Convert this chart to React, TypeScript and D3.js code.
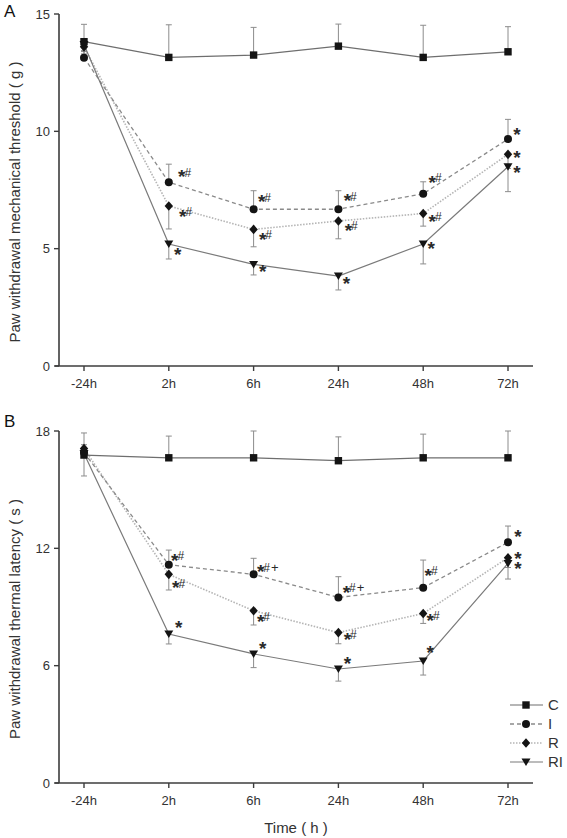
import React from "react";
import * as d3 from "d3";

// ---------- DATA ----------
const categories = ["-24h", "2h", "6h", "24h", "48h", "72h"];
const seriesNames = ["C", "I", "R", "RI"];

// Panel A: mechanical threshold (g)
const mechC = [13.82, 13.15, 13.25, 13.63, 13.15, 13.39];
const mechCErr = [0.74, 1.39, 1.18, 0.94, 1.37, 1.07];
const mechI = [13.14, 7.83, 6.68, 6.68, 7.34, 9.67];
const mechIErr = [0.3, 0.77, 0.79, 0.79, 0.51, 0.84];
const mechR = [13.6, 6.82, 5.82, 6.18, 6.5, 9.02];
const mechRErr = [0.3, 0.98, 0.74, 0.76, 0.54, 0.6];
const mechRI = [13.7, 5.2, 4.33, 3.83, 5.2, 8.49];
const mechRIErr = [0.3, 0.64, 0.45, 0.59, 0.85, 1.06];
const mechTicks = [0, 5, 10, 15];

const mechAnnoI = ["", "*#", "*#", "*#", "*#", "*"];
const mechAnnoR = ["", "*#", "*#", "*#", "*#", "*"];
const mechAnnoRI = ["", "*", "*", "*", "*", "*"];

// Panel B: thermal latency (s)
const therC = [16.77, 16.63, 16.63, 16.48, 16.63, 16.63];
const therCErr = [1.13, 1.11, 1.37, 1.22, 1.21, 1.37];
const therI = [16.9, 11.16, 10.67, 9.49, 9.99, 12.31];
const therIErr = [0.4, 0.75, 0.82, 1.06, 1.41, 0.83];
const therR = [17.1, 10.67, 8.81, 7.69, 8.67, 11.52];
const therRErr = [0.4, 0.8, 0.73, 0.57, 0.51, 0.5];
const therRI = [16.85, 7.62, 6.6, 5.83, 6.24, 11.23];
const therRIErr = [1.15, 0.51, 0.7, 0.62, 0.72, 0.8];
const therTicks = [0, 6, 12, 18];

const therAnnoI = ["", "*#", "*#+", "*#+", "*#", "*"];
const therAnnoR = ["", "*#", "*#", "*#", "*#", "*"];
const therAnnoRI = ["", "*", "*", "*", "*", "*"];

// ---------- LAYOUT (not data) ----------
const W = 567;
const H = 838;
const FONT = "'Liberation Sans', Arial, Helvetica, sans-serif";
const AXIS_X = 59;
const X_END = 533;

// star-centre offsets from the marker, per series, per time point
const mechOff = {
  I: [[0, 0], [13, -10], [8, -12], [9, -13], [9, -16], [9, -9]],
  R: [[0, 0], [14, 6], [9, 5], [10, 5], [9, 3], [9, -1]],
  RI: [[0, 0], [9, 6], [9, 3], [8, 3], [8, 0], [9, 1]],
};
const therOff = {
  I: [[0, 0], [6, -9], [7, -7], [8, -10], [5, -17], [10, -10]],
  R: [[0, 0], [7, 9], [7, 6], [9, 2], [7, 2], [10, -4]],
  RI: [[0, 0], [10, -11], [9, -10], [9, -10], [7, -13], [10, 1]],
};

const styles = {
  C: { stroke: "#6e6e6e", dash: "", width: 1.2, errDir: -1 },
  I: { stroke: "#8a8a8a", dash: "4,3", width: 1.3, errDir: -1 },
  R: { stroke: "#b5b5b5", dash: "1.5,1.5", width: 1.6, errDir: 1 },
  RI: { stroke: "#7a7a7a", dash: "", width: 1.2, errDir: 1 },
};

const MARK = "#141414";

function Marker({ type, x, y }) {
  if (type === "C") return <rect x={x - 3.7} y={y - 3.7} width={7.4} height={7.4} fill={MARK} />;
  if (type === "I") return <circle cx={x} cy={y} r={4} fill={MARK} />;
  if (type === "R")
    return <path d={`M${x},${y - 4.8}L${x + 4.2},${y}L${x},${y + 4.8}L${x - 4.2},${y}Z`} fill={MARK} />;
  return <path d={`M${x - 4.5},${y - 3.5}L${x + 4.5},${y - 3.5}L${x},${y + 4}Z`} fill={MARK} />;
}

function Anno({ text, sx, sy }) {
  if (!text) return null;
  const parts = text.split("");
  // bold star glyph centre ~0.585em above baseline; font 19px
  return (
    <text x={sx - 3.7} y={sy + 11.1} fontFamily={FONT} fill="#2a2a2a">
      {parts.map((p, i) => {
        if (p === "*")
          return (
            <tspan key={i} fontSize={19} fontWeight="bold">
              *
            </tspan>
          );
        if (p === "#")
          return (
            <tspan key={i} fontSize={12} dy={-6.8} dx={-1}>
              #
            </tspan>
          );
        return (
          <tspan key={i} fontSize={13} dx={1}>
            +
          </tspan>
        );
      })}
    </text>
  );
}

function Panel({ label, labelY, top, bottom, domainMax, ticks, data, errs, annos, offs, title, legend }) {
  const x = d3.scalePoint().domain(categories).range([84, 508]);
  const y = d3.scaleLinear().domain([0, domainMax]).range([bottom, top]);
  const line = d3
    .line()
    .x((d, i) => x(categories[i]))
    .y((d) => y(d));
  const order = ["R", "I", "RI", "C"];
  return (
    <g>
      <text x={4} y={labelY} fontFamily={FONT} fontSize={17} fill="#111">
        {label}
      </text>
      {/* axes */}
      <line x1={AXIS_X} x2={AXIS_X} y1={top} y2={bottom} stroke="#3c3c3c" strokeWidth={1.6} />
      <line x1={AXIS_X - 4} x2={X_END} y1={bottom} y2={bottom} stroke="#3c3c3c" strokeWidth={1.6} />
      {ticks.map((t) => (
        <g key={t}>
          <line x1={AXIS_X - 5} x2={AXIS_X} y1={y(t)} y2={y(t)} stroke="#3c3c3c" strokeWidth={1.4} />
          <text
            x={AXIS_X - 9}
            y={y(t)}
            dy="0.35em"
            textAnchor="end"
            fontFamily={FONT}
            fontSize={13}
            fill="#333"
          >
            {t}
          </text>
        </g>
      ))}
      {categories.map((c) => (
        <g key={c}>
          <line x1={x(c)} x2={x(c)} y1={bottom} y2={bottom + 5} stroke="#3c3c3c" strokeWidth={1.4} />
          <text x={x(c)} y={bottom + 22} textAnchor="middle" fontFamily={FONT} fontSize={13} fill="#333">
            {c}
          </text>
        </g>
      ))}
      <text
        transform={`translate(20,${(top + bottom) / 2 + 12}) rotate(-90)`}
        textAnchor="middle"
        fontFamily={FONT}
        fontSize={15}
        fill="#333"
      >
        {title}
      </text>
      {/* error bars */}
      {order.map((s) => {
        const st = styles[s];
        return data[s].map((v, i) => {
          const cx = x(categories[i]);
          const y1 = y(v);
          const ye = y(v - st.errDir * errs[s][i]);
          return (
            <g key={s + i} stroke="#8c8c8c" strokeWidth={1}>
              <line x1={cx} x2={cx} y1={y1} y2={ye} />
              <line x1={cx - 3} x2={cx + 3} y1={ye} y2={ye} />
            </g>
          );
        });
      })}
      {/* lines */}
      {order.map((s) => {
        const st = styles[s];
        return (
          <path
            key={s}
            d={line(data[s])}
            fill="none"
            stroke={st.stroke}
            strokeWidth={st.width}
            strokeDasharray={st.dash}
          />
        );
      })}
      {/* markers */}
      {order.map((s) =>
        data[s].map((v, i) => <Marker key={s + i} type={s} x={x(categories[i])} y={y(v)} />)
      )}
      {/* annotations */}
      {["I", "R", "RI"].map((s) =>
        annos[s].map((t, i) => (
          <Anno
            key={s + i}
            text={t}
            sx={x(categories[i]) + offs[s][i][0]}
            sy={y(data[s][i]) + offs[s][i][1]}
          />
        ))
      )}
      {legend}
    </g>
  );
}

function Legend() {
  const ys = [705, 724, 743, 762];
  return (
    <g>
      {seriesNames.map((s, i) => {
        const st = styles[s];
        return (
          <g key={s}>
            <line
              x1={510}
              x2={543}
              y1={ys[i]}
              y2={ys[i]}
              stroke={st.stroke}
              strokeWidth={st.width}
              strokeDasharray={st.dash}
            />
            <Marker type={s} x={526} y={ys[i]} />
            <text x={548} y={ys[i]} dy="0.36em" fontFamily={FONT} fontSize={15} fill="#333">
              {s}
            </text>
          </g>
        );
      })}
    </g>
  );
}

export default function App() {
  const mechData = { C: mechC, I: mechI, R: mechR, RI: mechRI };
  const mechErrs = { C: mechCErr, I: mechIErr, R: mechRErr, RI: mechRIErr };
  const therData = { C: therC, I: therI, R: therR, RI: therRI };
  const therErrs = { C: therCErr, I: therIErr, R: therRErr, RI: therRIErr };
  return (
    <svg
      width={W}
      height={H}
      viewBox={`0 0 ${W} ${H}`}
      style={{ position: "absolute", left: 0, top: 0, background: "#fff" }}
    >
      <rect width={W} height={H} fill="#fff" />
      <Panel
        label="A"
        labelY={17}
        top={14}
        bottom={366}
        domainMax={15}
        ticks={mechTicks}
        data={mechData}
        errs={mechErrs}
        annos={{ I: mechAnnoI, R: mechAnnoR, RI: mechAnnoRI }}
        offs={mechOff}
        title="Paw withdrawal mechanical threshold ( g )"
      />
      <Panel
        label="B"
        labelY={427}
        top={431}
        bottom={783}
        domainMax={18}
        ticks={therTicks}
        data={therData}
        errs={therErrs}
        annos={{ I: therAnnoI, R: therAnnoR, RI: therAnnoRI }}
        offs={therOff}
        title="Paw withdrawal thermal latency ( s )"
        legend={<Legend />}
      />
      <text x={296} y={833} textAnchor="middle" fontFamily={FONT} fontSize={15} fill="#333">
        Time ( h )
      </text>
    </svg>
  );
}
